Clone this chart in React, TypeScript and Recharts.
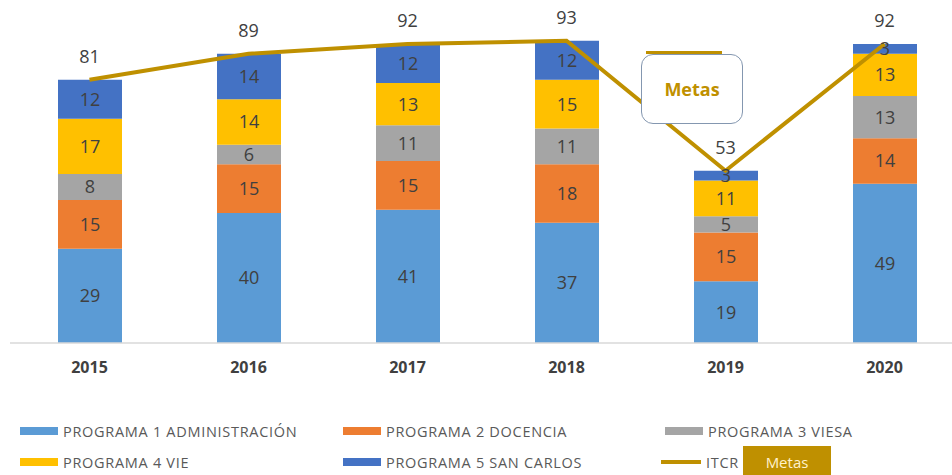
import React from "react";
import {
  ComposedChart,
  Bar,
  Line,
  XAxis,
  YAxis,
  LabelList,
} from "recharts";

const YEARS = ["2015", "2016", "2017", "2018", "2019", "2020"];
const PROG1 = [29, 40, 41, 37, 19, 49];
const PROG2 = [15, 15, 15, 18, 15, 14];
const PROG3 = [8, 6, 11, 11, 5, 13];
const PROG4 = [17, 14, 13, 15, 11, 13];
const PROG5 = [12, 14, 12, 12, 3, 3];
const ITCR = [81, 89, 92, 93, 53, 92];

const SERIES = [
  { key: "p1", name: "PROGRAMA 1 ADMINISTRACIÓN", color: "#5B9BD5" },
  { key: "p2", name: "PROGRAMA 2 DOCENCIA", color: "#ED7D31" },
  { key: "p3", name: "PROGRAMA 3 VIESA", color: "#A5A5A5" },
  { key: "p4", name: "PROGRAMA 4 VIE", color: "#FFC000" },
  { key: "p5", name: "PROGRAMA 5 SAN CARLOS", color: "#4472C4" },
];
const LINE_COLOR = "#BF9000";
const TEXT = "#404040";
const FONT = "'Open Sans', sans-serif";

const data = YEARS.map((year, i) => ({
  year,
  p1: PROG1[i],
  p2: PROG2[i],
  p3: PROG3[i],
  p4: PROG4[i],
  p5: PROG5[i],
  itcr: ITCR[i],
}));

function LegendItem({ color, label }: { color: string; label: string }) {
  return (
    <div style={{ display: "flex", alignItems: "center", height: 20 }}>
      <span
        style={{
          display: "inline-block",
          width: 38,
          height: 8,
          background: color,
          marginRight: 5,
        }}
      />
      <span>{label}</span>
    </div>
  );
}

export default function App() {
  return (
    <div
      style={{
        position: "fixed",
        left: 0,
        top: 0,
        width: 952,
        height: 475,
        overflow: "hidden",
        background: "#fff",
        fontFamily: FONT,
      }}
    >
      <ComposedChart
        width={964}
        height={400}
        data={data}
        margin={{ top: 18, right: 0, left: 10, bottom: 0 }}
        barCategoryGap={0}
      >
        <XAxis
          dataKey="year"
          height={57}
          tickLine={false}
          tickSize={0}
          tickMargin={19}
          axisLine={{ stroke: "#D9D9D9", strokeWidth: 1.5 }}
          tick={{ fill: TEXT, fontSize: 16, fontWeight: 700, fontFamily: FONT }}
        />
        <YAxis hide domain={[0, 100]} />
        {SERIES.map((s) => (
          <Bar
            key={s.key}
            dataKey={s.key}
            name={s.name}
            stackId="a"
            fill={s.color}
            barSize={64}
            isAnimationActive={false}
          >
            <LabelList
              dataKey={s.key}
              position="center"
              fill={TEXT}
              fontSize={18}
              fontFamily={FONT}
            />
          </Bar>
        ))}
        <Line
          type="linear"
          dataKey="itcr"
          name="ITCR"
          stroke={LINE_COLOR}
          strokeWidth={4}
          dot={false}
          isAnimationActive={false}
        >
          <LabelList
            dataKey="itcr"
            position="top"
            offset={17}
            fill={TEXT}
            fontSize={18}
            fontFamily={FONT}
          />
        </Line>
      </ComposedChart>

      {/* Metas callout */}
      <div
        style={{
          position: "absolute",
          left: 646,
          top: 51,
          width: 76,
          height: 3,
          background: LINE_COLOR,
        }}
      />
      <div
        style={{
          position: "absolute",
          left: 641,
          top: 54,
          width: 102,
          height: 70,
          boxSizing: "border-box",
          background: "#fff",
          border: "1px solid #8497B0",
          borderRadius: 12,
          display: "flex",
          alignItems: "center",
          justifyContent: "center",
          color: LINE_COLOR,
          fontWeight: 700,
          fontSize: 18,
        }}
      >
        Metas
      </div>

      {/* Legend */}
      <div
        style={{
          position: "absolute",
          left: 20,
          top: 421,
          width: 930,
          fontSize: 14.5,
          letterSpacing: 0.7,
          color: "#595959",
          display: "grid",
          gridTemplateColumns: "323px 322px 285px",
          rowGap: 11,
        }}
      >
        {SERIES.slice(0, 3).map((s) => (
          <LegendItem key={s.key} color={s.color} label={s.name} />
        ))}
        {SERIES.slice(3).map((s) => (
          <LegendItem key={s.key} color={s.color} label={s.name} />
        ))}
        <div
          style={{
            display: "flex",
            alignItems: "center",
            height: 20,
            marginLeft: -4,
          }}
        >
          <span
            style={{
              display: "inline-block",
              width: 40,
              height: 4,
              background: LINE_COLOR,
              marginRight: 5,
            }}
          />
          <span>ITCR</span>
        </div>
      </div>
      <div
        style={{
          position: "absolute",
          left: 743,
          top: 446,
          width: 88,
          height: 32,
          background: LINE_COLOR,
          color: "#FFF2CC",
          fontSize: 15,
          display: "flex",
          alignItems: "center",
          justifyContent: "center",
        }}
      >
        Metas
      </div>
    </div>
  );
}
